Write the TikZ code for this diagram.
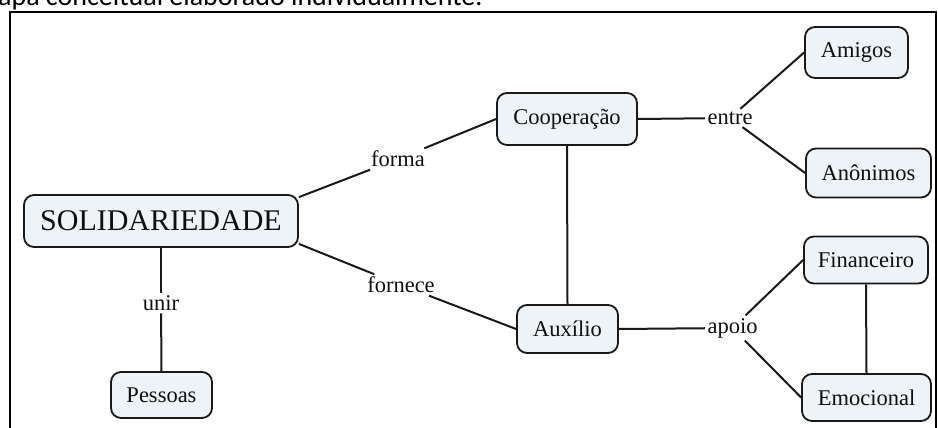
\documentclass[tikz,border=0pt]{standalone}
\usepackage{fontspec}
\setmainfont{Liberation Serif}
\newfontfamily\capfont{Carlito}
\definecolor{boxfill}{RGB}{237,243,246}
\definecolor{edgecol}{RGB}{25,25,25}
\definecolor{txtcol}{RGB}{15,15,15}
\begin{document}
\begin{tikzpicture}[x=1pt,y=-1pt,
  concept/.style={draw=edgecol, line width=1.8pt, fill=boxfill, rounded corners=10pt,
    inner sep=0pt, text=txtcol, font=\fontsize{22.5}{26}\selectfont},
  lbl/.style={inner sep=2.5pt, text=txtcol, font=\fontsize{22.5}{26}\selectfont},
  link/.style={draw=edgecol, line width=2pt}]
\useasboundingbox (0,0) rectangle (938,428);
\begin{scope}
\clip (0,0) rectangle (938,428);
\node[anchor=base west, font=\capfont\fontsize{28}{30}\selectfont, inner sep=0pt] (cap) at (-26,6) {Mapa conceitual elaborado individualmente.};
\draw[line width=2pt] (10,440) -- (10,12) -- (936,12) -- (936,440);
\end{scope}

% concepts
\node[concept, minimum width=274pt, minimum height=52pt, font=\fontsize{30}{34}\selectfont] (sol) at (161,221) {SOLIDARIEDADE};
\node[concept, minimum width=140pt, minimum height=52pt] (coop) at (567,119) {Cooperação};
\node[concept, minimum width=103pt, minimum height=51pt] (amigos) at (856.5,52.5) {Amigos};
\node[concept, minimum width=125pt, minimum height=49pt] (anon) at (868.5,173) {Anônimos};
\node[concept, minimum width=124pt, minimum height=47pt] (fin) at (866,260) {Financeiro};
\node[concept, minimum width=129pt, minimum height=47pt] (emo) at (866.5,397.5) {Emocional};
\node[concept, minimum width=101pt, minimum height=48pt] (aux) at (567.5,329) {Auxílio};
\node[concept, minimum width=101pt, minimum height=46pt] (pes) at (161.5,395) {Pessoas};

% linking phrases
\node[lbl] (forma) at (398,159) {forma};
\node[lbl] (fornece) at (401,285) {fornece};
\node[lbl] (entre) at (730,118) {entre};
\node[lbl] (apoio) at (732.5,328) {apoio};
\node[lbl] (unir) at (161,303) {unir};

% connectors
\draw[link] ([yshift=-3pt]sol.north east) -- (forma);
\draw[link] (forma) -- (coop.west);
\draw[link] ([yshift=4pt]sol.south east) -- (fornece);
\draw[link] (fornece) -- (aux.west);
\draw[link] (coop.east) -- (entre);
\draw[link] (entre) -- (amigos.west);
\draw[link] (entre) -- (anon.west);
\draw[link] (coop.south) -- (aux.north);
\draw[link] (aux.east) -- (apoio);
\draw[link] (apoio) -- (fin.west);
\draw[link] (apoio) -- (emo.west);
\draw[link] (fin.south) -- (emo.north);
\draw[link] (sol.south) -- (unir);
\draw[link] (unir) -- (pes.north);
\end{tikzpicture}
\end{document}
